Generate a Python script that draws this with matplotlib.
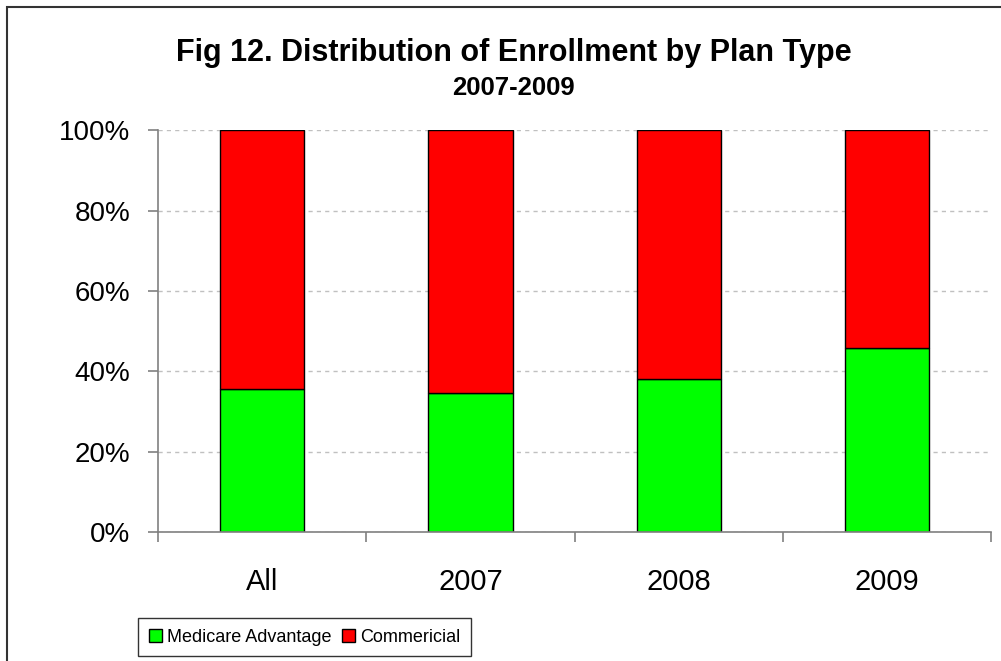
#!/usr/bin/env python3
"""Fig 12 - distribution of enrollment by plan type, 2007-2009."""

import matplotlib

matplotlib.use("Agg")
import matplotlib.pyplot as plt
from matplotlib.patches import Rectangle
import numpy as np

plt.rcParams["font.family"] = ["Liberation Sans", "DejaVu Sans"]

# Data (percent of enrollment).
categories = ["All", "2007", "2008", "2009"]
medicare_advantage = [35.5, 34.6, 38.2, 45.8]
commercial = [100 - v for v in medicare_advantage]
y_ticks = [0, 20, 40, 60, 80, 100]


def main():
    fig = plt.figure(figsize=(10.01, 6.61), dpi=100)
    ax = fig.add_axes([0.158, 0.195, 0.832, 0.608])

    x = np.arange(len(categories))
    width = 0.404
    ax.bar(x, medicare_advantage, width, color="#00ff00", edgecolor="black",
           lw=1, label="Medicare Advantage", zorder=3)
    ax.bar(x, commercial, width, bottom=medicare_advantage, color="#ff0000",
           edgecolor="black", lw=1, label="Commericial", zorder=3)

    ax.set_xlim(-0.5, len(categories) - 0.5)
    ax.set_ylim(0, 100)

    # Ticks sit on category boundaries, labels at bar centres.
    ax.set_xticks(np.arange(len(categories) + 1) - 0.5)
    ax.set_xticklabels([])
    ax.set_xticks(x, minor=True)
    ax.set_xticklabels(categories, minor=True, fontsize=21)
    ax.tick_params(axis="x", which="minor", length=0, pad=26)
    ax.tick_params(axis="x", which="major", length=7, color="#808080", width=1.2)

    ax.set_yticks(y_ticks)
    ax.set_yticklabels([f"{v}%" for v in y_ticks], fontsize=20)
    ax.tick_params(axis="y", length=7, color="#808080", width=1.2, pad=13)

    ax.yaxis.grid(True, color="#c0c0c0", linestyle=(0, (3, 3)), lw=1)
    ax.set_axisbelow(True)
    for side in ("top", "right"):
        ax.spines[side].set_visible(False)
    for side in ("left", "bottom"):
        ax.spines[side].set_color("#808080")
        ax.spines[side].set_linewidth(1.2)
    ax.spines["bottom"].set_zorder(4)

    fig.text(0.513, 0.908, "Fig 12. Distribution of Enrollment by Plan Type",
             ha="center", va="baseline", fontsize=22, fontweight="bold")
    fig.text(0.513, 0.857, "2007-2009", ha="center", va="baseline",
             fontsize=18.5, fontweight="bold")

    leg = fig.legend(loc="lower left", bbox_to_anchor=(0.138, 0.007),
                     ncol=2, fontsize=13, frameon=True, fancybox=False,
                     handlelength=0.7, handleheight=0.7, handletextpad=0.3,
                     columnspacing=0.6, borderpad=0.6, borderaxespad=0)
    leg.get_frame().set_edgecolor("black")
    leg.get_frame().set_linewidth(1)

    # Chart frame (runs off the right and bottom edges in the original).
    fig.patches.append(Rectangle((0.007, -0.1), 1.2, 1.09, transform=fig.transFigure,
                                 fill=False, edgecolor="#333333", lw=1.5))

    fig.savefig("out.png", dpi=100)
    plt.close(fig)


if __name__ == "__main__":
    main()
